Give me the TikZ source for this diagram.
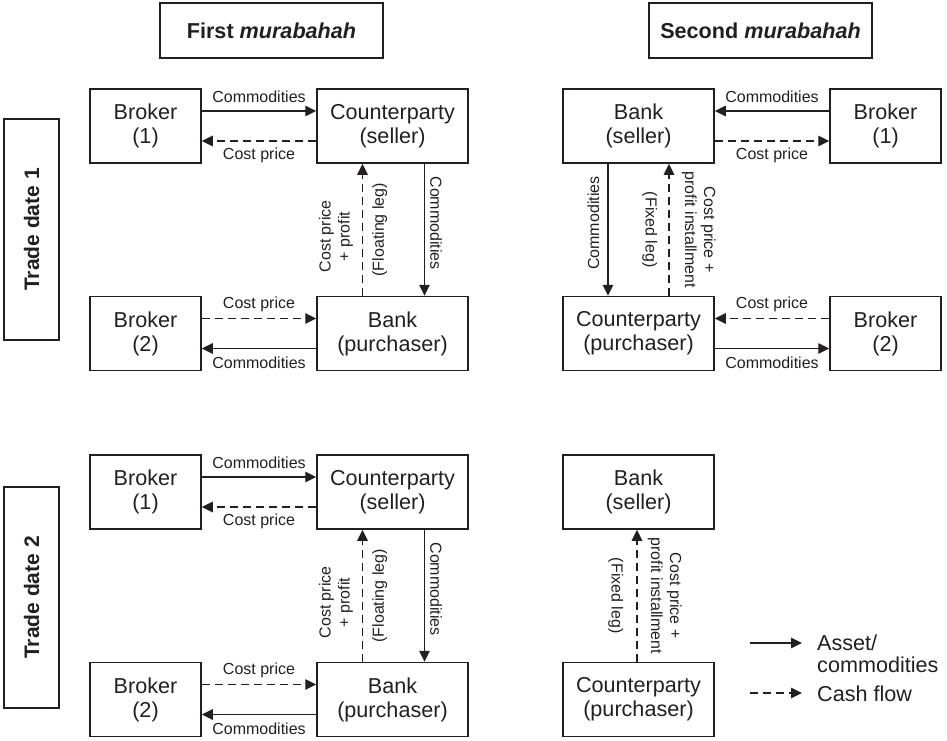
\documentclass[tikz,border=0pt]{standalone}
\usepackage{fontspec}
\setmainfont{Liberation Sans}
\usetikzlibrary{arrows.meta}
\definecolor{ink}{RGB}{35,31,32}
\begin{document}
\begin{tikzpicture}[x=1pt,y=-1pt, color=ink,
  party/.style={draw, line width=1.5pt, minimum height=74pt, inner sep=0pt, align=center,
    font=\fontsize{21.6}{24}\selectfont},
  broker/.style={party, minimum width=111pt},
  agent/.style={party, minimum width=151pt},
  titlebox/.style={draw, line width=1.5pt, minimum width=223pt, minimum height=55pt,
    font=\fontsize{21.6}{26}\selectfont\bfseries},
  datebox/.style={draw, line width=1.5pt, minimum width=221pt, minimum height=55pt,
    rotate=90, font=\fontsize{21}{25}\selectfont\bfseries},
  flow/.style={line width=1.35pt, -{Triangle[length=11pt,width=10.5pt]}},
  asset/.style={flow},
  cash/.style={flow, dash pattern=on 8pt off 5pt},
  lbl/.style={font=\fontsize{16}{19}\selectfont, align=center, inner sep=2pt},
  legendtext/.style={anchor=west, align=left, inner sep=0pt,
    font=\fontsize{21.6}{22}\selectfont},
]
\useasboundingbox (0,0) rectangle (947,740);

% column headings and row headings
\node[titlebox] (first)  at (271.5,30.5) {First \textit{murabahah}};
\node[titlebox] (second) at (760.5,30.5) {Second \textit{murabahah}};
\node[datebox] (td1) at (31.5,229.5) {Trade date 1};
\node[datebox] (td2) at (31.5,597.5) {Trade date 2};

% ---------- Trade date 1, first murabahah ----------
\node[broker] (brA1) at (145.5,126)   {Broker\\(1)};
\node[agent]  (cpA1) at (392.5,126)   {Counterparty\\(seller)};
\node[broker] (brB1) at (145.5,333.5) {Broker\\(2)};
\node[agent]  (bkB1) at (392.5,333.5) {Bank\\(purchaser)};

\draw[asset] ([yshift=15pt]brA1.east) -- node[lbl, above=6pt] {Commodities} ([yshift=15pt]cpA1.west);
\draw[cash]  ([yshift=-15pt]cpA1.west) -- node[lbl, below=4pt] {Cost price} ([yshift=-15pt]brA1.east);
\draw[cash]  ([yshift=15pt]brB1.east) -- node[lbl, above=4pt] {Cost price} ([yshift=15pt]bkB1.west);
\draw[asset] ([yshift=-15pt]bkB1.west) -- node[lbl, below=6pt] {Commodities} ([yshift=-15pt]brB1.east);
\draw[cash]  ([xshift=-30pt]bkB1.north) --
  node[lbl, rotate=90, anchor=south, inner sep=9pt, pos=0.45] {Cost price\\+ profit}
  node[lbl, rotate=90, anchor=north, inner sep=9pt] {(Floating leg)}
  ([xshift=-30pt]cpA1.south);
\draw[asset] ([xshift=32pt]cpA1.south) --
  node[lbl, rotate=-90, anchor=south, inner sep=5pt, pos=0.45] {Commodities}
  ([xshift=32pt]bkB1.north);

% ---------- Trade date 1, second murabahah ----------
\node[agent]  (bkS1) at (638.5,126)   {Bank\\(seller)};
\node[broker] (brC1) at (885.5,126)   {Broker\\(1)};
\node[agent]  (cpP1) at (638.5,333.5) {Counterparty\\(purchaser)};
\node[broker] (brD1) at (885.5,333.5) {Broker\\(2)};

\draw[asset] ([yshift=15pt]brC1.west) -- node[lbl, above=6pt] {Commodities} ([yshift=15pt]bkS1.east);
\draw[cash]  ([yshift=-15pt]bkS1.east) -- node[lbl, below=4pt] {Cost price} ([yshift=-15pt]brC1.west);
\draw[cash]  ([yshift=15pt]brD1.west) -- node[lbl, above=4pt] {Cost price} ([yshift=15pt]cpP1.east);
\draw[asset] ([yshift=-15pt]cpP1.east) -- node[lbl, below=6pt] {Commodities} ([yshift=-15pt]brD1.west);
\draw[asset] ([xshift=-30.5pt]bkS1.south) --
  node[lbl, rotate=90, anchor=south, inner sep=8pt, pos=0.45] {Commodities}
  ([xshift=-30.5pt]cpP1.north);
\draw[cash]  ([xshift=30.5pt]cpP1.north) --
  node[lbl, rotate=-90, anchor=north, inner sep=11pt] {(Fixed leg)}
  node[lbl, rotate=-90, anchor=south, inner sep=12pt] {Cost price +\\profit installment}
  ([xshift=30.5pt]bkS1.south);

% ---------- Trade date 2, first murabahah ----------
\node[broker] (brA2) at (145.5,492)   {Broker\\(1)};
\node[agent]  (cpA2) at (392.5,492)   {Counterparty\\(seller)};
\node[broker] (brB2) at (145.5,699.5) {Broker\\(2)};
\node[agent]  (bkB2) at (392.5,699.5) {Bank\\(purchaser)};

\draw[asset] ([yshift=15pt]brA2.east) -- node[lbl, above=6pt] {Commodities} ([yshift=15pt]cpA2.west);
\draw[cash]  ([yshift=-15pt]cpA2.west) -- node[lbl, below=4pt] {Cost price} ([yshift=-15pt]brA2.east);
\draw[cash]  ([yshift=15pt]brB2.east) -- node[lbl, above=4pt] {Cost price} ([yshift=15pt]bkB2.west);
\draw[asset] ([yshift=-15pt]bkB2.west) -- node[lbl, below=6pt] {Commodities} ([yshift=-15pt]brB2.east);
\draw[cash]  ([xshift=-30pt]bkB2.north) --
  node[lbl, rotate=90, anchor=south, inner sep=9pt, pos=0.45] {Cost price\\+ profit}
  node[lbl, rotate=90, anchor=north, inner sep=9pt] {(Floating leg)}
  ([xshift=-30pt]cpA2.south);
\draw[asset] ([xshift=32pt]cpA2.south) --
  node[lbl, rotate=-90, anchor=south, inner sep=5pt, pos=0.45] {Commodities}
  ([xshift=32pt]bkB2.north);

% ---------- Trade date 2, second murabahah ----------
\node[agent] (bkS2) at (638.5,492)   {Bank\\(seller)};
\node[agent] (cpP2) at (638.5,699.5) {Counterparty\\(purchaser)};

\draw[cash] ([xshift=-1.5pt]cpP2.north) --
  node[lbl, rotate=-90, anchor=north, inner sep=13pt] {(Fixed leg)}
  node[lbl, rotate=-90, anchor=south, inner sep=10pt] {Cost price +\\profit installment}
  ([xshift=-1.5pt]bkS2.south);

% ---------- legend ----------
\coordinate (la1) at (750,643);
\coordinate (la2) at (802,643);
\coordinate (lc1) at (750,693);
\coordinate (lc2) at (802,693);
\draw[asset] (la1) -- (la2);
\draw[cash]  (lc1) -- (lc2);
\node[legendtext] (legA) at (817,654) {Asset/\\commodities};
\node[legendtext] (legC) at (817,694) {Cash flow};
\end{tikzpicture}
\end{document}
